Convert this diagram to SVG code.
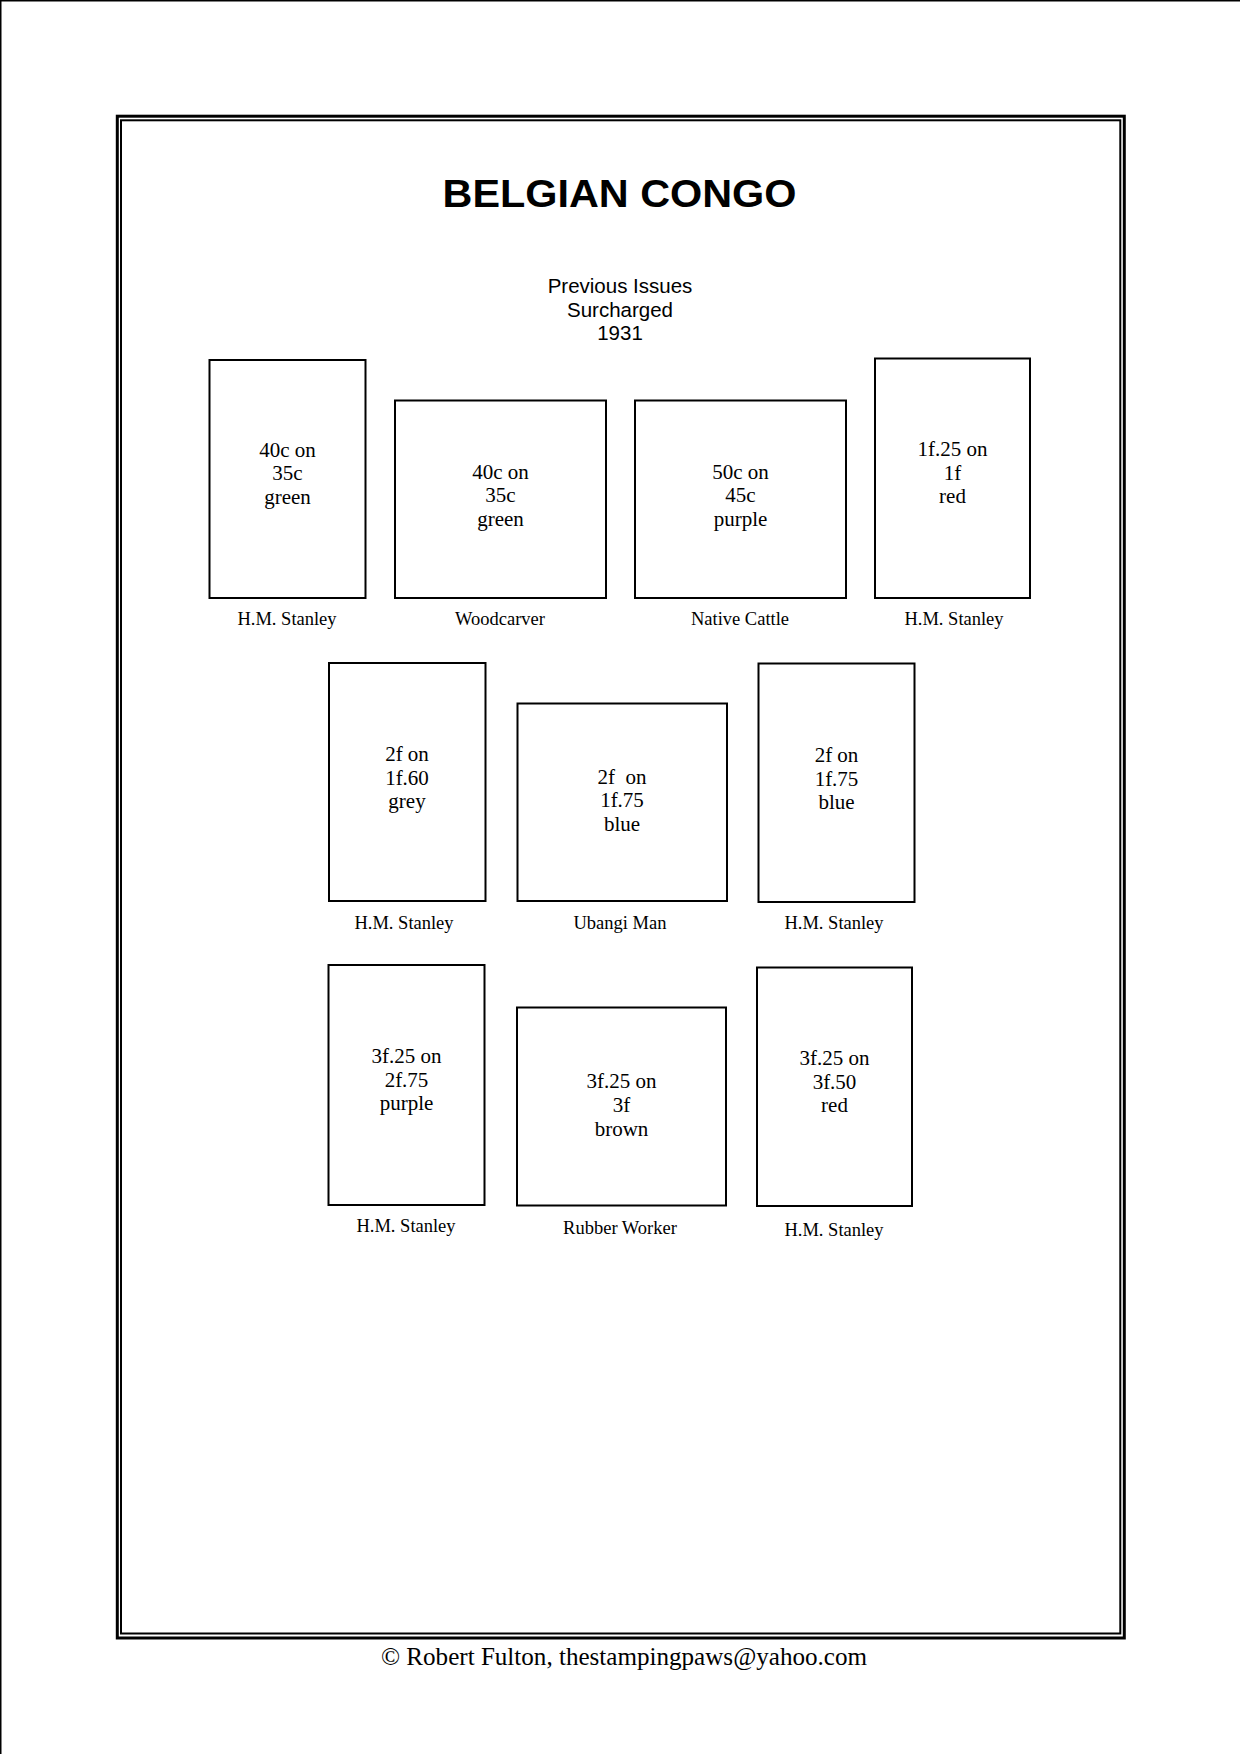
<svg xmlns="http://www.w3.org/2000/svg" width="1240" height="1754" viewBox="0 0 1240 1754">
<style>
.box{fill:none;stroke:#000;stroke-width:2}
.st{font-family:"Liberation Serif","Times New Roman",serif;font-size:21px;text-anchor:middle;fill:#000}
.lb{font-family:"Liberation Serif","Times New Roman",serif;font-size:18.5px;text-anchor:middle;fill:#000}
.sans{font-family:"Liberation Sans",Arial,sans-serif;text-anchor:middle;fill:#000}
</style>
<rect width="1240" height="1754" fill="#fff"/>
<g id="page-edge">
<line x1="0" y1="0.75" x2="1240" y2="0.75" stroke="#000" stroke-width="1.5"/>
<line x1="0.75" y1="0" x2="0.75" y2="1754" stroke="#000" stroke-width="1.5"/>
</g>
<g id="frame">
<rect x="117.3" y="116.2" width="1007" height="1521.8" fill="none" stroke="#000" stroke-width="3"/>
<rect x="121" y="120.3" width="999.3" height="1513.2" fill="none" stroke="#000" stroke-width="2"/>
</g>
<g id="title">
<text class="sans" x="619.5" y="207" font-size="38" font-weight="bold" textLength="354" lengthAdjust="spacingAndGlyphs">BELGIAN CONGO</text>
<text class="sans" x="620" y="292.5" font-size="20.5">Previous Issues</text>
<text class="sans" x="620" y="316.5" font-size="20.5">Surcharged</text>
<text class="sans" x="620" y="340" font-size="20.5">1931</text>
</g>
<g id="connectors"></g>
<g id="s1">
<rect class="box" x="209.5" y="360" width="156" height="238"/>
<text class="st" x="287.5" y="456.5">40c on</text>
<text class="st" x="287.5" y="480">35c</text>
<text class="st" x="287.5" y="503.5">green</text>
<text class="lb" x="287" y="624.5">H.M. Stanley</text>
</g>
<g id="s2">
<rect class="box" x="395" y="400.5" width="211" height="197.5"/>
<text class="st" x="500.5" y="478.5">40c on</text>
<text class="st" x="500.5" y="502">35c</text>
<text class="st" x="500.5" y="525.5">green</text>
<text class="lb" x="500" y="624.5">Woodcarver</text>
</g>
<g id="s3">
<rect class="box" x="635" y="400.5" width="211" height="197.5"/>
<text class="st" x="740.5" y="478.5">50c on</text>
<text class="st" x="740.5" y="502">45c</text>
<text class="st" x="740.5" y="525.5">purple</text>
<text class="lb" x="740" y="624.5">Native Cattle</text>
</g>
<g id="s4">
<rect class="box" x="875" y="358.5" width="155" height="239.5"/>
<text class="st" x="952.5" y="456">1f.25 on</text>
<text class="st" x="952.5" y="479.5">1f</text>
<text class="st" x="952.5" y="503">red</text>
<text class="lb" x="954" y="624.5">H.M. Stanley</text>
</g>
<g id="s5">
<rect class="box" x="329" y="663" width="156.5" height="238"/>
<text class="st" x="407" y="761">2f on</text>
<text class="st" x="407" y="784.5">1f.60</text>
<text class="st" x="407" y="808">grey</text>
<text class="lb" x="404" y="929">H.M. Stanley</text>
</g>
<g id="s6">
<rect class="box" x="517.5" y="703.5" width="209.5" height="197.5"/>
<text class="st" x="622" y="783.5" xml:space="preserve">2f  on</text>
<text class="st" x="622" y="807">1f.75</text>
<text class="st" x="622" y="830.5">blue</text>
<text class="lb" x="620" y="929">Ubangi Man</text>
</g>
<g id="s7">
<rect class="box" x="758.5" y="663.5" width="156" height="238.5"/>
<text class="st" x="836.5" y="762">2f on</text>
<text class="st" x="836.5" y="785.5">1f.75</text>
<text class="st" x="836.5" y="809">blue</text>
<text class="lb" x="834" y="929">H.M. Stanley</text>
</g>
<g id="s8">
<rect class="box" x="328.5" y="965" width="156" height="240"/>
<text class="st" x="406.5" y="1063">3f.25 on</text>
<text class="st" x="406.5" y="1086.5">2f.75</text>
<text class="st" x="406.5" y="1110">purple</text>
<text class="lb" x="406" y="1232">H.M. Stanley</text>
</g>
<g id="s9">
<rect class="box" x="517" y="1007.5" width="209" height="198"/>
<text class="st" x="621.5" y="1088">3f.25 on</text>
<text class="st" x="621.5" y="1111.5">3f</text>
<text class="st" x="621.5" y="1135.5">brown</text>
<text class="lb" x="620" y="1233.5">Rubber Worker</text>
</g>
<g id="s10">
<rect class="box" x="757" y="967.5" width="155" height="238.5"/>
<text class="st" x="834.5" y="1065">3f.25 on</text>
<text class="st" x="834.5" y="1088.5">3f.50</text>
<text class="st" x="834.5" y="1112">red</text>
<text class="lb" x="834" y="1235.5">H.M. Stanley</text>
</g>
<g id="footer">
<text x="624" y="1665" font-family="'Liberation Serif','Times New Roman',serif" font-size="25" text-anchor="middle" textLength="486" lengthAdjust="spacingAndGlyphs">© Robert Fulton, thestampingpaws@yahoo.com</text>
</g>
</svg>
